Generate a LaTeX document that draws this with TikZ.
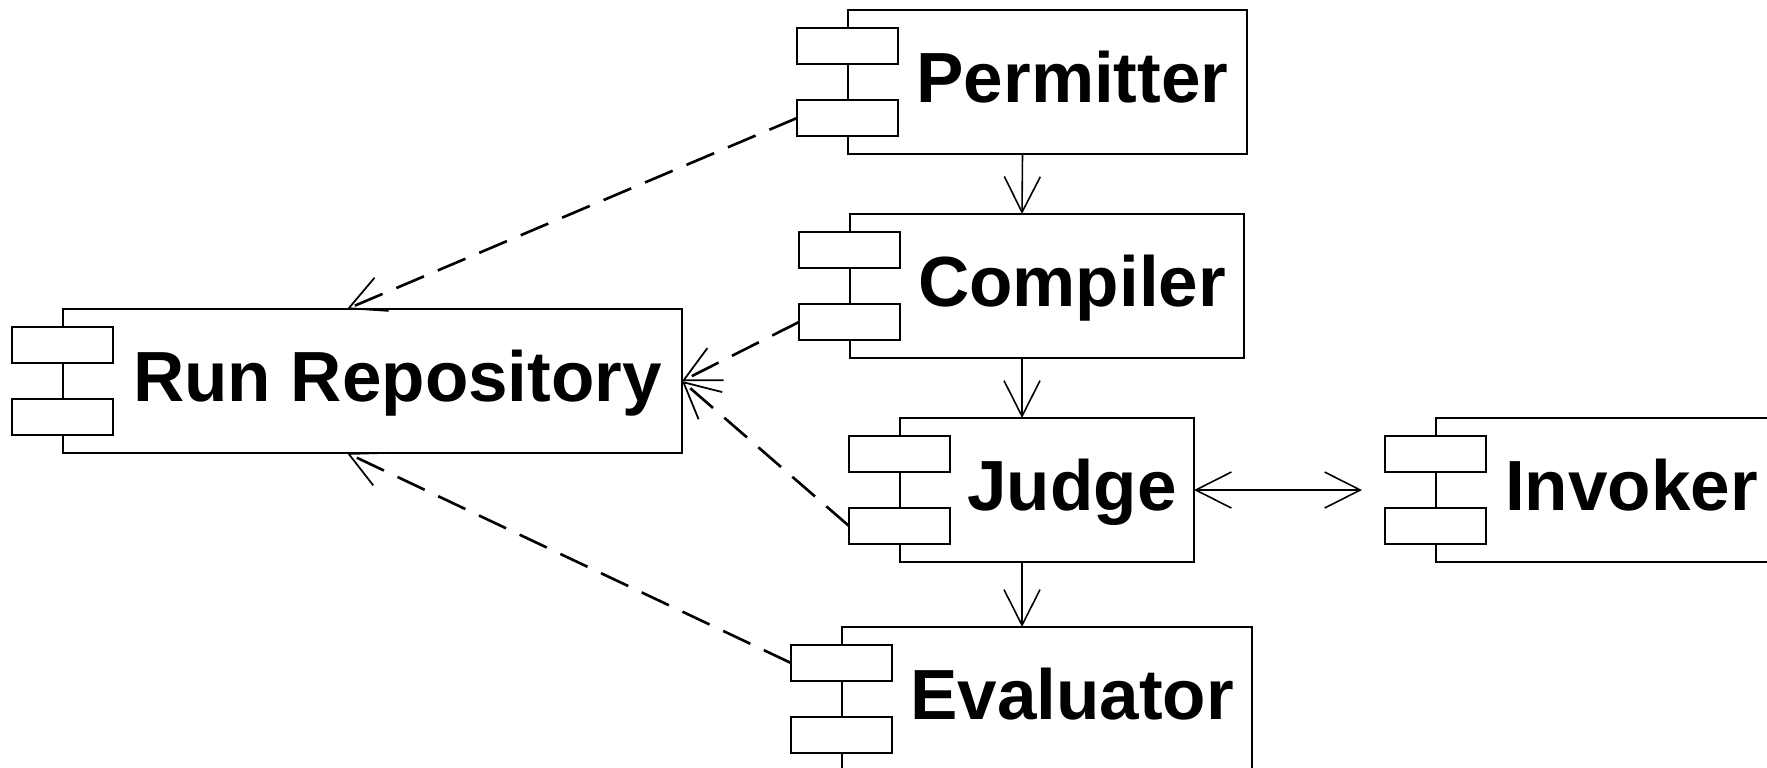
\documentclass[tikz,border=0pt]{standalone}
\usepackage{fontspec}
\setmainfont{Liberation Sans}
\usetikzlibrary{arrows.meta,calc}

\tikzset{
  compbox/.style={draw, line width=0.4pt, inner sep=0pt, outer sep=0pt,
    minimum height=1.44cm, anchor=north west},
  comptab/.style={draw, fill=white, line width=0.4pt, inner sep=0pt, outer sep=0pt,
    minimum width=1.01cm, minimum height=0.36cm, anchor=north west},
  complabel/.style={font=\fontsize{20.2pt}{24pt}\selectfont\bfseries,
    inner sep=0pt, anchor=base},
  usage/.style={-{Straight Barb[length=0.356cm, width=0.36cm, line width=0.5pt]},
    line width=0.75pt, dash pattern=on 0.30cm off 0.15cm},
  flow/.style={-{Straight Barb[length=0.356cm, width=0.36cm, line width=0.45pt]},
    line width=0.45pt},
  twoway/.style={{Straight Barb[length=0.356cm, width=0.36cm, line width=0.45pt]}-{Straight Barb[length=0.356cm, width=0.36cm, line width=0.45pt]},
    line width=0.45pt},
}

% UML component: name, left, top, width, label
\newcommand\umlcomp[5]{%
  \node[compbox, minimum width=#4*0.01cm] (#1) at (#2,#3) {};
  \node[comptab] (#1T1) at ({#2-51},{#3+18}) {};
  \node[comptab] (#1T2) at ({#2-51},{#3+90}) {};
  \node[complabel] (#1L) at ({#2+(50+#4)/2},{#3+93}) {#5};
}

\begin{document}
\begin{tikzpicture}[x=0.01cm, y=-0.01cm]
  \useasboundingbox (0,0) rectangle (1767,768);
  \clip (0,0) rectangle (1767,768);

  \umlcomp{perm}{848}{10}{399}{Permitter}
  \umlcomp{comp}{850}{214}{394}{Compiler}
  \umlcomp{repo}{63}{309}{619}{Run Repository}
  \umlcomp{judge}{900}{418}{294}{Judge}
  \umlcomp{inv}{1436}{418}{341}{Invoker}
  \umlcomp{eval}{842}{627}{410}{Evaluator}

  % dependencies on the repository
  \draw[usage] (permT2.west) -- ($(repo.north west)+(284,0)$);
  \draw[usage] (compT2.west) -- (repo.east);
  \draw[usage] (judgeT2.west) -- (repo.east);
  \draw[usage] (evalT1.west) -- ($(repo.south west)+(284,0)$);

  % pipeline
  \draw[flow] ($(perm.south)+(-25,0)$) -- ($(comp.north)+(-25,0)$);
  \draw[flow] ($(comp.south)+(-25,0)$) -- ($(judge.north)+(-25,0)$);
  \draw[flow] ($(judge.south)+(-25,0)$) -- ($(eval.north)+(-25,0)$);
  \draw[twoway] (judge.east) -- ($(inv.west)+(-74,0)$);
\end{tikzpicture}
\end{document}
